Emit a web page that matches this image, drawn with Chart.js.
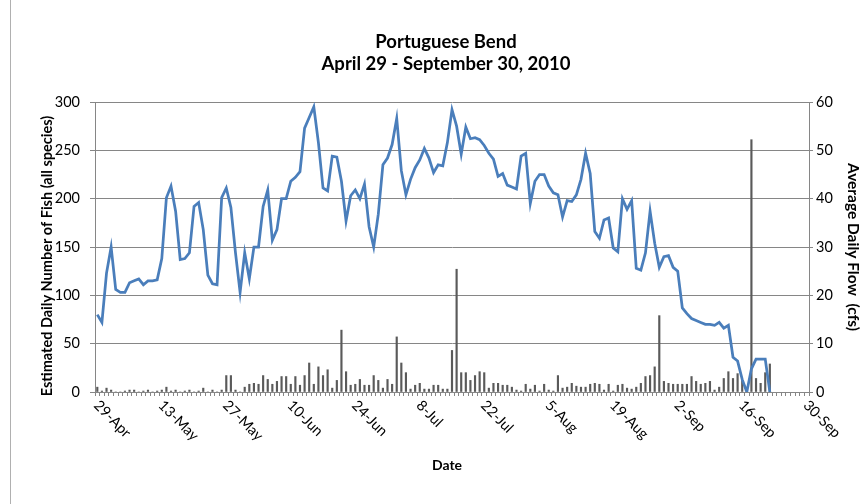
<!DOCTYPE html>
<html>
<head>
<meta charset="utf-8">
<script src="https://cdn.jsdelivr.net/npm/chart.js@4.4.1/dist/chart.umd.min.js"></script>
<style>
  html, body { margin: 0; padding: 0; background: #fff; }
  #wrap { width: 862px; height: 504px; position: relative; }
</style>
</head>
<body>
<div id="wrap"><canvas id="chart" width="862" height="504"></canvas></div>
<script>
// ── data ───────────────────────────────────────────────────────────────────
const TITLE = ['Portuguese Bend', 'April 29 - September 30, 2010'];
const X_TITLE = 'Date';
const Y_TITLE = 'Estimated Daily Number of Fish (all species)';
const Y1_TITLE = 'Average Daily Flow  (cfs)';

const TICK_LABELS = ['29-Apr', '13-May', '27-May', '10-Jun', '24-Jun', '8-Jul',
    '22-Jul', '5-Aug', '19-Aug', '2-Sep', '16-Sep', '30-Sep'];

const MONTHS = ['Jan', 'Feb', 'Mar', 'Apr', 'May', 'Jun', 'Jul', 'Aug', 'Sep', 'Oct', 'Nov', 'Dec'];
const days = [];
for (let i = 0; i < 155; i++) {
    const d = new Date(2010, 3, 29 + i);
    days.push(d.getDate() + '-' + MONTHS[d.getMonth()]);
}

// estimated daily number of fish (bars, left axis)
const fish = [
    5, 1, 4, 2, 0, 0, 1, 2, 2, 0,
    1, 2, 0, 1, 2, 5, 1, 2, 0, 1,
    2, 0, 1, 4, 0, 2, 0, 2, 17, 17,
    2, 0, 5, 8, 9, 8, 17, 13, 8, 11,
    16, 16, 8, 16, 7, 17, 30, 8, 26, 17,
    23, 4, 12, 64, 21, 7, 8, 13, 7, 7,
    17, 12, 4, 13, 8, 57, 30, 20, 3, 7,
    9, 3, 3, 7, 7, 3, 3, 43, 127, 20,
    20, 12, 17, 21, 20, 4, 9, 9, 7, 7,
    5, 2, 1, 8, 3, 7, 1, 8, 2, 1,
    17, 4, 5, 9, 6, 5, 5, 8, 9, 8,
    2, 8, 1, 7, 8, 4, 3, 5, 9, 16,
    17, 26, 79, 11, 9, 8, 8, 8, 8, 16,
    11, 8, 9, 11, 2, 5, 14, 21, 14, 19,
    12, 4, 261, 14, 9, 20, 29, null, null, null,
    null, null, null, null, null,
];

// average daily flow in cfs (line, right axis)
const flow = [
    16.0, 14.4, 24.6, 30.0, 21.2, 20.6, 20.6, 22.6, 23.0, 23.4,
    22.2, 23.0, 23.0, 23.2, 27.6, 40.2, 42.6, 37.4, 27.4, 27.6,
    28.8, 38.4, 39.2, 33.6, 24.2, 22.4, 22.2, 40.2, 42.2, 38.2,
    28.8, 20.6, 28.8, 23.4, 30.0, 30.0, 38.4, 41.8, 31.4, 33.6,
    40.0, 40.0, 43.6, 44.4, 45.6, 54.6, 56.8, 59.0, 51.6, 42.2,
    41.6, 48.8, 48.6, 43.6, 35.4, 40.6, 41.8, 40.0, 43.0, 34.2,
    30.0, 36.8, 47.0, 48.4, 51.2, 56.6, 45.8, 40.8, 44.0, 46.4,
    48.0, 50.4, 48.4, 45.4, 47.0, 46.8, 51.6, 58.4, 55.0, 49.2,
    54.8, 52.4, 52.6, 52.2, 51.0, 49.4, 48.2, 44.6, 45.2, 42.8,
    42.4, 42.0, 48.8, 49.4, 39.0, 43.6, 45.0, 45.0, 42.6, 41.2,
    40.8, 36.2, 39.6, 39.4, 40.8, 44.0, 49.4, 45.2, 33.2, 31.8,
    35.6, 36.0, 29.8, 29.0, 40.0, 37.8, 39.6, 25.6, 25.2, 28.8,
    37.4, 30.8, 25.8, 28.0, 28.2, 25.8, 25.0, 17.4, 16.2, 15.2,
    14.8, 14.4, 14.0, 14.0, 13.8, 14.4, 13.2, 13.8, 7.2, 6.4,
    2.6, 0, 4.8, 6.8, 6.8, 6.8, 0, null, null, null,
    null, null, null, null, null,
];

// ── chart ──────────────────────────────────────────────────────────────────
Chart.defaults.font.family = 'Lato, "Open Sans", sans-serif';
Chart.defaults.color = '#000';

const AXIS = '#868686';

// frame, titles and the rotated date labels
const textPlugin = {
    id: 'texts',
    beforeDraw(chart) {
        const ctx = chart.ctx;
        ctx.save();
        ctx.strokeStyle = '#b0b0b0';
        ctx.lineWidth = 1;
        ctx.beginPath();
        ctx.moveTo(10.5, 0);
        ctx.lineTo(10.5, 504);
        ctx.stroke();
        ctx.restore();
    },
    afterDraw(chart) {
        const ctx = chart.ctx;
        const xs = chart.scales.x;
        ctx.save();
        ctx.fillStyle = '#000';
        ctx.textAlign = 'center';
        ctx.textBaseline = 'middle';
        ctx.font = 'bold 18.5px Lato';
        ctx.fillText(TITLE[0], 446, 42);
        ctx.fillText(TITLE[1], 446, 64);

        ctx.font = 'bold 14px Lato';
        ctx.fillText(X_TITLE, 447, 465);

        ctx.font = 'bold 14.5px Lato';
        ctx.save();
        ctx.translate(47, 256);
        ctx.rotate(-Math.PI / 2);
        ctx.fillText(Y_TITLE, 0, 0);
        ctx.restore();

        ctx.font = 'bold 15.5px Lato';
        ctx.save();
        ctx.translate(853, 247);
        ctx.rotate(Math.PI / 2);
        ctx.fillText(Y1_TITLE, 0, 0);
        ctx.restore();

        ctx.font = '14.5px Lato';
        ctx.textAlign = 'left';
        TICK_LABELS.forEach(lbl => {
            const px = xs.getPixelForValue(days.indexOf(lbl));
            ctx.save();
            ctx.translate(px - 1, 403);
            ctx.rotate(Math.PI / 4);
            ctx.fillText(lbl, 0, 0);
            ctx.restore();
        });
        ctx.restore();
    },
};

new Chart(document.getElementById('chart'), {
    type: 'bar',
    data: {
        labels: days,
        datasets: [
            {
                type: 'line',
                label: 'Average Daily Flow',
                data: flow,
                yAxisID: 'y1',
                borderColor: '#4a7ebb',
                borderWidth: 2.75,
                pointRadius: 0,
                tension: 0,
                spanGaps: false,
                order: 1,
            },
            {
                type: 'bar',
                label: 'Fish',
                data: fish,
                yAxisID: 'y',
                backgroundColor: '#5a5a5a',
                barThickness: 1.5,
                order: 2,
            },
        ],
    },
    options: {
        responsive: false,
        animation: false,
        layout: { padding: { top: 102, left: 0, right: 0, bottom: 0 } },
        plugins: {
            legend: { display: false },
            tooltip: { enabled: false },
            title: { display: false },
        },
        scales: {
            x: {
                offset: true,
                grid: { display: true, drawOnChartArea: false, drawTicks: true, tickLength: 4, color: AXIS },
                border: { color: AXIS },
                ticks: { display: false, autoSkip: false },
                afterFit: s => { s.height = 112; },
            },
            y: {
                position: 'left',
                min: 0,
                max: 300,
                grid: { color: AXIS, tickLength: 5 },
                border: { color: AXIS },
                ticks: { stepSize: 50, padding: 10, font: { size: 14.5 } },
                afterFit: s => { s.width = 95; },
            },
            y1: {
                position: 'right',
                min: 0,
                max: 60,
                grid: { drawOnChartArea: false, color: AXIS, tickLength: 4 },
                border: { color: AXIS },
                ticks: { stepSize: 10, padding: 3, font: { size: 14.5 } },
                afterFit: s => { s.width = 53; },
            },
        },
    },
    plugins: [textPlugin],
});
</script>
</body>
</html>
